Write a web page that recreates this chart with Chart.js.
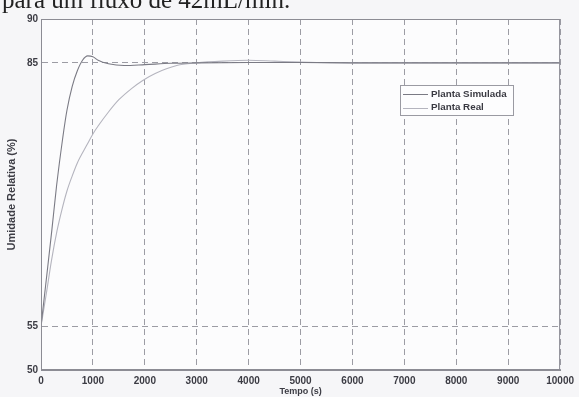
<!DOCTYPE html>
<html>
<head>
<meta charset="utf-8">
<script src="https://cdn.jsdelivr.net/npm/chart.js@4/dist/chart.umd.min.js"></script>
<style>
  html, body { margin:0; padding:0; background:#f6f6f8; overflow:hidden; }
  #wrap { position:relative; width:579px; height:397px; }
  #caption { position:absolute; left:2px; top:-12px; font-family:"Liberation Serif", serif; font-size:25px; line-height:24px; color:#222; white-space:nowrap; }
  canvas { position:absolute; left:0; top:0; }
</style>
</head>
<body>
<div id="wrap">
  <canvas id="c" width="579" height="397"></canvas>
  <div id="caption">para um fluxo de 42mL/min.</div>
</div>
<script>
// ---- data ----
const seriesNames = ["Planta Simulada", "Planta Real"];
const timeSim = [0, 100, 210, 300, 420, 500, 600, 700, 800, 900, 1000, 1100, 1300, 1600, 2000, 2500, 3000, 4000, 5000, 6000, 7000, 8000, 9000, 10000];
const plantaSimulada = [55, 60.2, 66, 71, 76.5, 79.6, 82.3, 84.1, 85.3, 85.8, 85.7, 85.3, 84.9, 84.7, 84.8, 84.95, 85, 85.05, 85.05, 85, 85, 85, 85, 85];
const timeReal = [0, 100, 200, 310, 400, 500, 600, 700, 880, 1000, 1100, 1300, 1500, 1750, 1960, 2200, 2615, 3000, 3500, 4000, 4500, 5000, 6000, 7000, 8000, 9000, 10000];
const plantaReal = [55, 58.6, 62.4, 65.9, 68.2, 70.4, 72.1, 73.6, 75.6, 76.9, 77.8, 79.4, 80.8, 82.1, 83.0, 83.8, 84.7, 85.0, 85.2, 85.3, 85.2, 85.1, 85.0, 85.0, 85.0, 85.0, 85.0];
const xTicks = [0, 1000, 2000, 3000, 4000, 5000, 6000, 7000, 8000, 9000, 10000];
const yTicks = [50, 55, 85, 90];
const xTitle = "Tempo (s)";
const yTitle = "Umidade Relativa (%)";

const toPts = (xs, ys) => xs.map((x, i) => ({ x: x, y: ys[i] }));

const fam = "'Liberation Sans', Arial, sans-serif";
const tickFont = { family: fam, size: 10, weight: "bold" };
const tickColor = "#3c3c44";

const frame = {
  id: "frame",
  beforeDraw(chart) {
    const { ctx, chartArea: a } = chart;
    ctx.save();
    ctx.fillStyle = "#fcfcfd";
    ctx.fillRect(a.left, a.top, a.right - a.left, a.bottom - a.top);
    ctx.restore();
  },
  afterDatasetsDraw(chart) {
    const { ctx, chartArea: a } = chart;
    ctx.save();
    ctx.strokeStyle = "#8c8c94";
    ctx.lineWidth = 1;
    ctx.strokeRect(a.left + 0.5, a.top + 0.5, a.right - a.left - 1, a.bottom - a.top - 1);
    // legend box
    const x = chart.scales.x, y = chart.scales.y;
    const lx = Math.round(x.getPixelForValue(6910)), ty = Math.round(y.getPixelForValue(82.48));
    const w = 113, h = 30;
    ctx.fillStyle = "#fdfdfe";
    ctx.fillRect(lx, ty, w, h);
    ctx.strokeStyle = "#9a9aa2";
    ctx.strokeRect(lx + 0.5, ty + 0.5, w, h);
    chart.data.datasets.forEach((ds, i) => {
      const yy = ty + 9 + i * 13.5;
      ctx.strokeStyle = ds.borderColor;
      ctx.lineWidth = 1;
      ctx.beginPath();
      ctx.moveTo(lx + 3, Math.round(yy) + 0.5);
      ctx.lineTo(lx + 28, Math.round(yy) + 0.5);
      ctx.stroke();
      ctx.fillStyle = "#3a3a42";
      ctx.font = "bold 9.8px " + fam;
      ctx.textBaseline = "middle";
      ctx.textAlign = "left";
      ctx.fillText(ds.label, lx + 31, yy);
    });
    ctx.restore();
  }
};

new Chart(document.getElementById("c"), {
  type: "line",
  data: {
    datasets: [
      { label: seriesNames[0], data: toPts(timeSim, plantaSimulada), borderColor: "#7a7a84", borderWidth: 1.1, pointRadius: 0, cubicInterpolationMode: "monotone", fill: false },
      { label: seriesNames[1], data: toPts(timeReal, plantaReal), borderColor: "#b4b4be", borderWidth: 1.1, pointRadius: 0, cubicInterpolationMode: "monotone", fill: false }
    ]
  },
  options: {
    responsive: false,
    animation: false,
    layout: { padding: { left: 0, top: 19, right: 17, bottom: 0 } },
    plugins: { legend: { display: false }, tooltip: { enabled: false } },
    scales: {
      x: {
        type: "linear", min: 0, max: 10000,
        afterBuildTicks(s) { s.ticks = xTicks.map(v => ({ value: v })); },
        afterFit(s) { s.height = 27; },
        ticks: { font: tickFont, color: tickColor, padding: 5, maxRotation: 0, autoSkip: false, callback: v => String(v) },
        grid: { color: "#9c9ca4", lineWidth: 1, drawTicks: false },
        border: { display: true, color: "#8c8c94", dash: [6, 4] },
        title: { display: true, text: xTitle, font: { family: fam, size: 9, weight: "bold" }, color: tickColor, padding: { top: 0, bottom: 0 } }
      },
      y: {
        type: "linear", min: 50, max: 90,
        afterBuildTicks(s) { s.ticks = yTicks.map(v => ({ value: v })); },
        afterFit(s) { s.width = 41; },
        ticks: { font: tickFont, color: tickColor, padding: 3, autoSkip: false, callback: v => String(v) },
        grid: { color: "#9c9ca4", lineWidth: 1, drawTicks: false },
        border: { display: true, color: "#8c8c94", dash: [6, 4] },
        title: { display: true, text: yTitle, font: { family: fam, size: 11, weight: "bold" }, color: tickColor, padding: { top: 5, bottom: 0 } }
      }
    }
  },
  plugins: [frame]
});
</script>
</body>
</html>
